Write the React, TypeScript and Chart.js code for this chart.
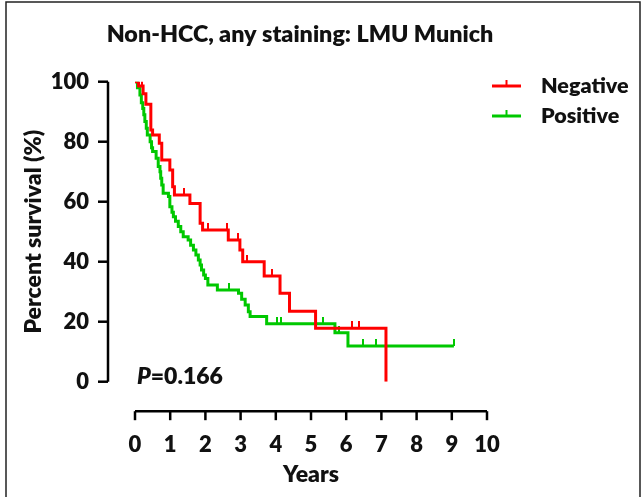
import React, { useEffect, useRef } from "react";
import { Chart, registerables } from "chart.js";

Chart.register(...registerables);

const chartTitle = "Non-HCC, any staining: LMU Munich";
const xTitle = "Years";
const yTitle = "Percent survival (%)";
const seriesNames = ["Negative", "Positive"];
const seriesColors = ["#ff0000", "#00c800"];
const pLabel = "P";
const pValue = "=0.166";
const xTickValues = [0, 1, 2, 3, 4, 5, 6, 7, 8, 9, 10];
const yTickValues = [0, 20, 40, 60, 80, 100];

// Negative group (Kaplan-Meier steps: time in years, survival %)
const negTimes = [0, 0.1, 0.23, 0.31, 0.45, 0.5, 0.69, 0.76, 0.99, 1.07, 1.12, 1.56, 1.85, 1.92, 2.65, 2.98, 3.06, 3.67, 4.12, 4.39, 5.13, 7.13];
const negSurvival = [100, 98.6, 96, 92.5, 83.9, 82.2, 79.5, 73.9, 70.6, 65, 62.2, 59.4, 52.8, 50.6, 47.2, 43.9, 40.0, 35.2, 29.5, 23.5, 17.8, 0];
const negCensorTimes = [0.2, 1.4, 2.06, 2.6, 2.93, 3.17, 3.9, 6.16, 6.36];
const negCensorSurvival = [98.6, 62.2, 50.6, 50.6, 47.2, 40.0, 35.2, 17.8, 17.8];

// Positive group
const posTimes = [0, 0.07, 0.14, 0.18, 0.22, 0.25, 0.28, 0.32, 0.35, 0.43, 0.47, 0.5, 0.6, 0.66, 0.71, 0.73, 0.76, 0.8, 0.95, 0.99, 1.05, 1.09, 1.15, 1.23, 1.3, 1.37, 1.51, 1.58, 1.66, 1.73, 1.8, 1.85, 1.89, 1.95, 2.0, 2.07, 2.34, 2.94, 3.03, 3.13, 3.22, 3.27, 3.74, 5.68, 6.05, 9.06];
const posSurvival = [100, 98, 95.6, 93, 91.1, 89, 86.7, 84.5, 82.2, 80, 78, 76.7, 74.5, 71.7, 70, 67.8, 65.6, 62.8, 61.7, 58.3, 56.5, 55, 53.5, 51.7, 50, 48.3, 47.2, 45.5, 43.9, 42.2, 40.6, 38.9, 37.2, 35.6, 34.4, 32.2, 30.6, 29.5, 27.5, 25.6, 23.3, 21.7, 19.3, 16.3, 11.9, 11.9];
const posCensorTimes = [2.68, 4.03, 4.14, 5.35, 5.8, 6.47, 6.85, 9.06];
const posCensorSurvival = [30.6, 19.3, 19.3, 19.3, 16.3, 11.9, 11.9, 11.9];

const FONT = "Lato, 'Open Sans', sans-serif";
const W = "800";

function makeCensorMark(color: string): HTMLCanvasElement {
  const c = document.createElement("canvas");
  c.width = 2;
  c.height = 14;
  const g = c.getContext("2d")!;
  g.fillStyle = color;
  g.fillRect(0, 0, 2, 7);
  return c;
}

const toPoints = (xs: number[], ys: number[]) => xs.map((x, i) => ({ x, y: ys[i] }));

const decorPlugin = {
  id: "decor",
  afterDraw(chart: any) {
    const { ctx, chartArea, scales } = chart;
    const xs = scales.x;
    const ys = scales.y;
    ctx.save();
    // frame
    ctx.strokeStyle = "#222";
    ctx.lineWidth = 1.5;
    ctx.beginPath();
    ctx.moveTo(6, 497);
    ctx.lineTo(6, 2);
    ctx.lineTo(640, 2);
    ctx.lineTo(640, 497);
    ctx.stroke();

    // y axis
    ctx.strokeStyle = "#000";
    ctx.lineWidth = 2.5;
    const yAxisX = chartArea.left - 27;
    ctx.beginPath();
    ctx.moveTo(yAxisX, ys.getPixelForValue(100));
    ctx.lineTo(yAxisX, ys.getPixelForValue(0));
    ctx.stroke();
    yTickValues.forEach((v) => {
      const py = ys.getPixelForValue(v);
      ctx.beginPath();
      ctx.moveTo(yAxisX, py);
      ctx.lineTo(yAxisX - 10, py);
      ctx.stroke();
    });
    // x axis
    const xAxisY = chartArea.bottom + 29.5;
    ctx.beginPath();
    ctx.moveTo(xs.getPixelForValue(0), xAxisY);
    ctx.lineTo(xs.getPixelForValue(10), xAxisY);
    ctx.stroke();
    xTickValues.forEach((v) => {
      const px = xs.getPixelForValue(v);
      ctx.beginPath();
      ctx.moveTo(px, xAxisY);
      ctx.lineTo(px, xAxisY + 9);
      ctx.stroke();
    });

    // title
    ctx.fillStyle = "#111";
    ctx.font = `${W} 23.3px ${FONT}`;
    ctx.textAlign = "center";
    ctx.textBaseline = "alphabetic";
    ctx.fillText(chartTitle, 300, 42);

    // P value
    ctx.textAlign = "left";
    ctx.textBaseline = "middle";
    ctx.font = `italic ${W} 23px ${FONT}`;
    const px0 = 137;
    const py0 = 377;
    ctx.fillText(pLabel, px0, py0);
    const pw = ctx.measureText(pLabel).width;
    ctx.font = `${W} 23px ${FONT}`;
    ctx.fillText(pValue, px0 + pw, py0);

    // legend
    const legY = [86, 116];
    seriesNames.forEach((name, i) => {
      const y = legY[i];
      ctx.strokeStyle = seriesColors[i];
      ctx.lineWidth = 3;
      ctx.beginPath();
      ctx.moveTo(492, y);
      ctx.lineTo(521, y);
      ctx.stroke();
      ctx.lineWidth = 2;
      ctx.beginPath();
      ctx.moveTo(506.5, y);
      ctx.lineTo(506.5, y - 6);
      ctx.stroke();
      ctx.fillStyle = "#111";
      ctx.font = `${W} 21.5px ${FONT}`;
      ctx.textBaseline = "middle";
      ctx.fillText(name, 541, y);
    });
    ctx.restore();
  },
};

export default function App() {
  const ref = useRef<HTMLCanvasElement | null>(null);
  useEffect(() => {
    if (!ref.current) return;
    const chart = new Chart(ref.current, {
      type: "line",
      data: {
        datasets: [
          {
            label: seriesNames[0],
            data: toPoints(negTimes, negSurvival),
            borderColor: seriesColors[0],
            borderWidth: 3,
            stepped: "before",
            pointRadius: 0,
            fill: false,
            order: 0,
          },
          {
            label: seriesNames[0] + " censored",
            data: toPoints(negCensorTimes, negCensorSurvival),
            showLine: false,
            pointStyle: makeCensorMark(seriesColors[0]) as any,
            pointRadius: 4,
            order: 0,
          },
          {
            label: seriesNames[1],
            data: toPoints(posTimes, posSurvival),
            borderColor: seriesColors[1],
            borderWidth: 3,
            stepped: "before",
            pointRadius: 0,
            fill: false,
            order: 1,
          },
          {
            label: seriesNames[1] + " censored",
            data: toPoints(posCensorTimes, posCensorSurvival),
            showLine: false,
            pointStyle: makeCensorMark(seriesColors[1]) as any,
            pointRadius: 4,
            order: 1,
          },
        ],
      },
      options: {
        animation: false,
        responsive: false,
        devicePixelRatio: 1,
        layout: { padding: { top: 81.7, right: 157, left: 0, bottom: 0 } },
        plugins: {
          legend: { display: false },
          title: { display: false },
          tooltip: { enabled: false },
        },
        scales: {
          x: {
            type: "linear",
            min: 0,
            max: 10,
            grid: { display: false },
            border: { display: false },
            ticks: {
              stepSize: 1,
              padding: 42,
              color: "#111",
              font: { family: FONT, weight: W as any, size: 22 },
            },
            title: {
              display: true,
              text: xTitle,
              color: "#111",
              font: { family: FONT, weight: W as any, size: 23 },
              padding: { top: 0, bottom: 9 },
            },
            afterFit: (s: any) => {
              s.height = 115.3;
            },
          },
          y: {
            type: "linear",
            min: 0,
            max: 100,
            grid: { display: false },
            border: { display: false },
            ticks: {
              stepSize: 20,
              padding: 38,
              color: "#111",
              font: { family: FONT, weight: W as any, size: 22 },
            },
            title: {
              display: true,
              text: yTitle,
              color: "#111",
              font: { family: FONT, weight: W as any, size: 23 },
              padding: { top: 20, bottom: 0 },
            },
            afterFit: (s: any) => {
              s.width = 135;
            },
          },
        },
      },
      plugins: [decorPlugin],
    });
    return () => chart.destroy();
  }, []);
  return (
    <div style={{ position: "absolute", left: 0, top: 0, width: 644, height: 497, background: "#fff" }}>
      <canvas ref={ref} width={644} height={497} />
    </div>
  );
}
